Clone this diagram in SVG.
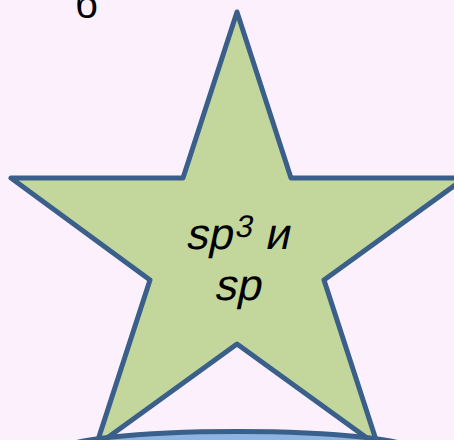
<svg xmlns="http://www.w3.org/2000/svg" width="454" height="440" viewBox="0 0 454 440">
  <style>
    .bg { fill: #FCF0FC; }
    .star { fill: #C3D69B; stroke: #3A5F8B; stroke-width: 5; stroke-linejoin: round; }
    .disc { fill: #8EB4E3; stroke: #3A5F8B; stroke-width: 5; }
    .lbl { font-family: "Liberation Sans", Arial, sans-serif; fill: #000000; }
  </style>
  <rect class="bg" x="0" y="0" width="454" height="440"/>
  <text class="lbl" x="75" y="18" font-size="40">б</text>
  <g id="star-node">
    <polygon class="star" points="237,12 291,178 465,178 324,280 378,446 237,344 96,446 150,280 11,178 183,178"/>
    <text class="lbl" transform="translate(237,249) skewX(-12)" x="0" y="0" font-size="44" text-anchor="middle"><tspan>sp</tspan><tspan font-size="31" dy="-12">3</tspan><tspan dy="12" dx="3"> и</tspan></text>
    <text class="lbl" transform="translate(237,300) skewX(-12)" x="0" y="0" font-size="44" text-anchor="middle">sp</text>
  </g>
  <g id="disc-node">
    <ellipse class="disc" cx="237" cy="451.5" rx="180" ry="20"/>
  </g>
  <g id="connectors"/>
</svg>
